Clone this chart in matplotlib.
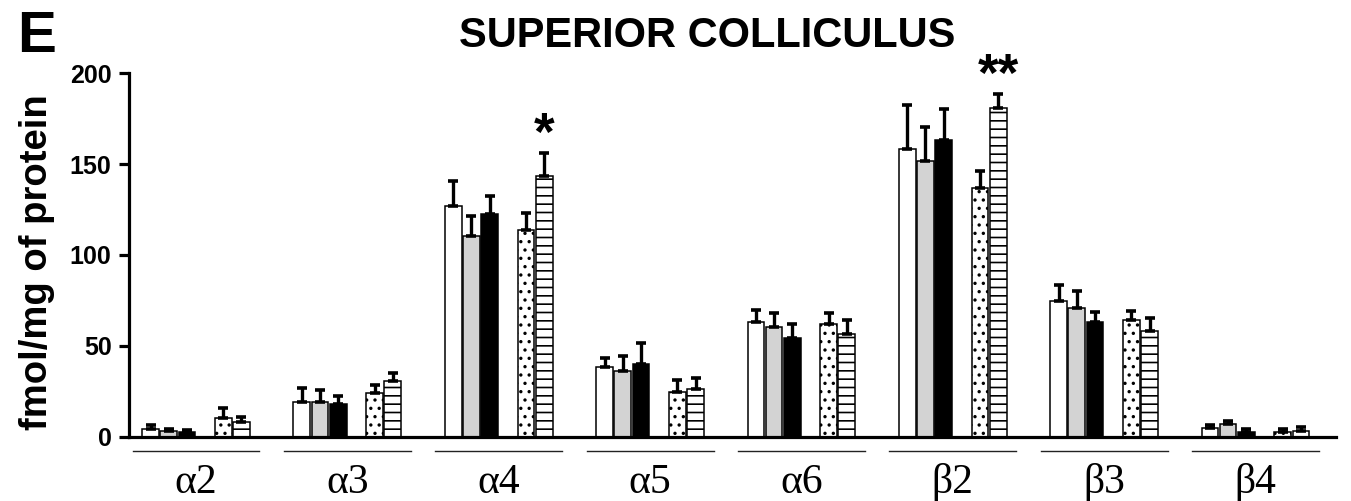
import matplotlib
matplotlib.use("Agg")
import matplotlib.pyplot as plt
import numpy as np

# ---------------- data ----------------
categories = ["α2", "α3", "α4", "α5", "α6", "β2", "β3", "β4"]

series_1 = [4.0, 18.8, 126.8, 38.3, 63.1, 158.2, 74.7, 4.7]     # white
series_2 = [3.2, 18.8, 110.6, 35.9, 60.2, 151.6, 71.0, 6.7]     # grey
series_3 = [2.5, 17.9, 122.4, 40.1, 54.1, 163.0, 63.1, 2.5]     # black
series_4 = [10.0, 24.1, 113.6, 24.7, 62.2, 136.7, 64.0, 2.3]    # dotted
series_5 = [8.2, 30.7, 143.5, 26.2, 56.3, 180.8, 58.3, 2.9]     # horizontal lines

err_1 = [2.6, 7.8, 13.8, 4.8, 6.8, 24.2, 8.8, 1.6]
err_2 = [1.0, 6.9, 10.9, 8.7, 7.7, 18.6, 9.2, 2.0]
err_3 = [1.0, 4.5, 9.8, 11.3, 7.9, 17.1, 5.2, 1.4]
err_4 = [5.6, 4.3, 9.6, 6.3, 5.9, 9.6, 5.2, 1.6]
err_5 = [2.7, 4.0, 12.4, 5.9, 8.1, 7.6, 7.0, 2.5]

yticks = [0, 50, 100, 150, 200]

significance = {2: "*", 5: "**"}   # category index -> stars on series 5

# ---------------- style ----------------
plt.rcParams["font.family"] = ["Liberation Sans", "DejaVu Sans"]
plt.rcParams["hatch.linewidth"] = 1.2
plt.rcParams["hatch.color"] = "black"

fig = plt.figure(figsize=(13.51, 5.01), dpi=100)
W, H = 1351.0, 501.0
ax = fig.add_axes([128.5 / W, 1 - 436.5 / H, (1336 - 128.5) / W, (436.5 - 73.3) / H])

group_step = 8.32
slot_offsets = [-2.5, -1.5, -0.5, 1.5, 2.5]
bar_w = 0.92
centers = np.arange(len(categories)) * group_step

all_series = [series_1, series_2, series_3, series_4, series_5]
all_err = [err_1, err_2, err_3, err_4, err_5]
faces = ["white", "#d3d3d3", "black", "white", "white"]
hatches = [None, None, None, "..", "--"]

for k in range(5):
    xs = centers + slot_offsets[k]
    vals = np.array(all_series[k])
    errs = np.array(all_err[k])
    ax.bar(xs, vals, width=bar_w, color=faces[k], edgecolor="black",
           linewidth=1.1, hatch=hatches[k], zorder=2)
    ax.errorbar(xs, vals, yerr=[np.zeros_like(errs), errs], fmt="none",
                ecolor="black", elinewidth=2.4, capsize=3.8, capthick=2.6, zorder=3)

for idx, s in significance.items():
    x = centers[idx] + slot_offsets[4]
    top = series_5[idx] + err_5[idx]
    ax.annotate(s, xy=(x, top), xytext=(0, 2.5), textcoords="offset points",
                ha="center", va="baseline", fontsize=38, fontweight="bold")

ax.set_xlim(-3.71, 7 * group_step + 4.43)
ax.set_ylim(0, 200)
ax.set_yticks(yticks)
ax.set_yticklabels([str(t) for t in yticks])
ax.set_xticks([])

for sp in ["top", "right"]:
    ax.spines[sp].set_visible(False)
ax.spines["left"].set_linewidth(2.3)
ax.spines["bottom"].set_linewidth(2.3)
ax.tick_params(axis="y", direction="out", length=7.2, width=2.3, pad=5, labelsize=18)
for lbl in ax.get_yticklabels():
    lbl.set_fontweight("bold")

trans = matplotlib.transforms.blended_transform_factory(ax.transData, ax.transAxes)
for c, lab in zip(centers, categories):
    ax.plot([c - 3.49, c + 3.49], [-0.039, -0.039], transform=trans,
            color="#222222", linewidth=1.0, clip_on=False)
    ax.text(c, -0.1556, lab, transform=trans, ha="center", va="baseline",
            fontsize=30, family=["Liberation Serif", "DejaVu Serif"])

fig.text(706.7 / W, 1 - 36 / H, "SUPERIOR COLLICULUS", ha="center", va="center",
         fontsize=30, fontweight="bold")
fig.text(37 / W, 1 - 262 / H, "fmol/mg of protein", rotation=90, ha="center",
         va="center", fontsize=27.5, fontweight="bold")
fig.text(36.5 / W, 1 - 36.5 / H, "E", ha="center", va="center",
         fontsize=42, fontweight="bold")

fig.savefig("out.png", dpi=100)
